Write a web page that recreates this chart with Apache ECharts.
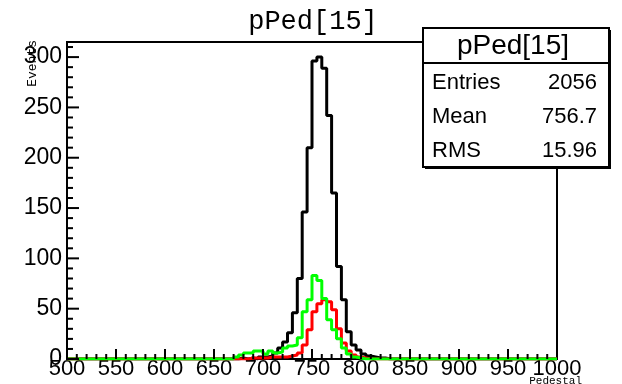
<!DOCTYPE html>
<html>
<head>
<meta charset="utf-8">
<script src="https://cdn.jsdelivr.net/npm/echarts@6.0.0/dist/echarts.min.js"></script>
<style>
  html, body { margin: 0; padding: 0; background: #fff; }
  #chart { width: 622px; height: 384px; }
</style>
</head>
<body>
<div id="chart"></div>
<script>
// bins are 5 wide, left edges start at 660; everything outside is empty
const firstEdge = 660
const binWidth = 5

// pPed[15]
const blackCounts = [0, 0, 0, 1, 0, 1, 0, 2, 2, 3, 6, 11, 17, 26, 46, 80, 146, 210, 296, 300,
  289, 242, 165, 92, 59, 27, 14, 9, 5, 3, 2, 1, 1, 0]
const redCounts = [0, 0, 0, 0, 0, 1, 1, 1, 1, 2, 2, 2, 2, 3, 4, 6, 14, 29, 47, 55,
  59, 57, 49, 30, 16, 8, 4, 2, 1, 0, 0, 0, 0, 0]
const greenCounts = [0, 0, 2, 4, 6, 6, 8, 8, 5, 8, 6, 7, 11, 13, 14, 21, 47, 59, 83, 78,
  60, 39, 29, 20, 11, 5, 2, 1, 0, 0, 0, 0, 0, 0]

const statNames = ['Entries', 'Mean', 'RMS']
const statValues = ['2056', '756.7', '15.96']

const xMin = 500, xMax = 1000
const yMin = 0, yMax = 315
const xMajorTicks = [500, 550, 600, 650, 700, 750, 800, 850, 900, 950, 1000]
const yMajorTicks = [0, 50, 100, 150, 200, 250, 300]
const minorStep = 10

const gridBox = { left: 67, right: 65, top: 42, bottom: 25 }

function steps(counts) {
  let pts = [[xMin, 0]]
  counts.forEach((c, i) => pts.push([firstEdge + i * binWidth, c]))
  pts.push([firstEdge + counts.length * binWidth, 0], [xMax, 0])
  return pts
}

function hist(name, color, counts) {
  return {
    name: name,
    type: 'line',
    step: 'end',
    data: steps(counts),
    showSymbol: false,
    lineStyle: { color: color, width: 3 }
  }
}

// ROOT style ticks inside the frame: [x, y, length in px, direction]
let ticks = []
for (let v = xMin; v < xMax; v += minorStep) {
  ticks.push([v, yMin, xMajorTicks.includes(v) ? 10 : 5, 'x'])
}
for (let v = yMin; v < yMax; v += minorStep) {
  ticks.push([xMin, v, yMajorTicks.includes(v) ? 12 : 6, 'y'])
}

const font = '"Liberation Sans", Arial, sans-serif'
const mono = '"Liberation Mono", "Courier New", monospace'

let myChart = echarts.init(document.getElementById('chart'))

let graphics = [
  { type: 'text', x: 313, y: 22, style: { text: 'pPed[15]', font: '27px ' + mono, fill: '#000', align: 'center', verticalAlign: 'middle' } },
  { type: 'text', x: 33, y: 40, rotation: Math.PI / 2, style: { text: 'Events', font: '13px ' + mono, fill: '#000', align: 'right', verticalAlign: 'middle' } },
  { type: 'text', x: 582, y: 381, style: { text: 'Pedestal', font: '11px ' + mono, fill: '#000', align: 'right', verticalAlign: 'middle' } },
  // stats box
  { type: 'rect', shape: { x: 425, y: 30, width: 186, height: 139 }, style: { fill: '#000' } },
  { type: 'rect', shape: { x: 423, y: 28, width: 186, height: 139 }, style: { fill: '#fff', stroke: '#000', lineWidth: 2 } },
  { type: 'line', shape: { x1: 423, y1: 63, x2: 609, y2: 63 }, style: { stroke: '#000', lineWidth: 2 } },
  { type: 'text', x: 513, y: 46, style: { text: 'pPed[15]', font: '28px ' + font, fill: '#000', align: 'center', verticalAlign: 'middle' } }
]
statNames.forEach((n, i) => {
  let y = 83 + i * 34
  graphics.push({ type: 'text', x: 432, y: y, style: { text: n, font: '22px ' + font, fill: '#000', align: 'left', verticalAlign: 'middle' } })
  graphics.push({ type: 'text', x: 597, y: y, style: { text: statValues[i], font: '22px ' + font, fill: '#000', align: 'right', verticalAlign: 'middle' } })
})

let option = {
  animation: false,
  grid: Object.assign({ show: true, borderColor: '#000', borderWidth: 2 }, gridBox),
  xAxis: {
    type: 'value', min: xMin, max: xMax, interval: 50, position: 'bottom',
    axisLine: { show: false },
    axisTick: { show: false },
    axisLabel: { color: '#000', fontSize: 22, fontFamily: font, margin: -1, formatter: v => String(v) },
    splitLine: { show: false }
  },
  yAxis: {
    type: 'value', min: yMin, max: yMax, interval: 50, position: 'left',
    axisLine: { show: false },
    axisTick: { show: false },
    axisLabel: { color: '#000', fontSize: 23, fontFamily: font, margin: 5, showMaxLabel: false, formatter: v => String(v) },
    splitLine: { show: false }
  },
  series: [
    hist('pPed[15]', '#000', blackCounts),
    hist('red', '#ff0000', redCounts),
    hist('green', '#00ff00', greenCounts)
  ],
  graphic: { elements: graphics }
}
option && myChart.setOption(option)

// ticks as small filled bars placed through the axis scales
let tickEls = ticks.map(t => {
  let p = myChart.convertToPixel({ gridIndex: 0 }, [t[0], t[1]])
  let shape = t[3] === 'x'
    ? { x: p[0] - 1, y: p[1] - t[2], width: 2, height: t[2] }
    : { x: p[0], y: p[1] - 1, width: t[2], height: 2 }
  return { type: 'rect', z: 100, shape: shape, style: { fill: '#000' } }
})
myChart.setOption({ graphic: { elements: graphics.concat(tickEls) } })
</script>
</body>
</html>
